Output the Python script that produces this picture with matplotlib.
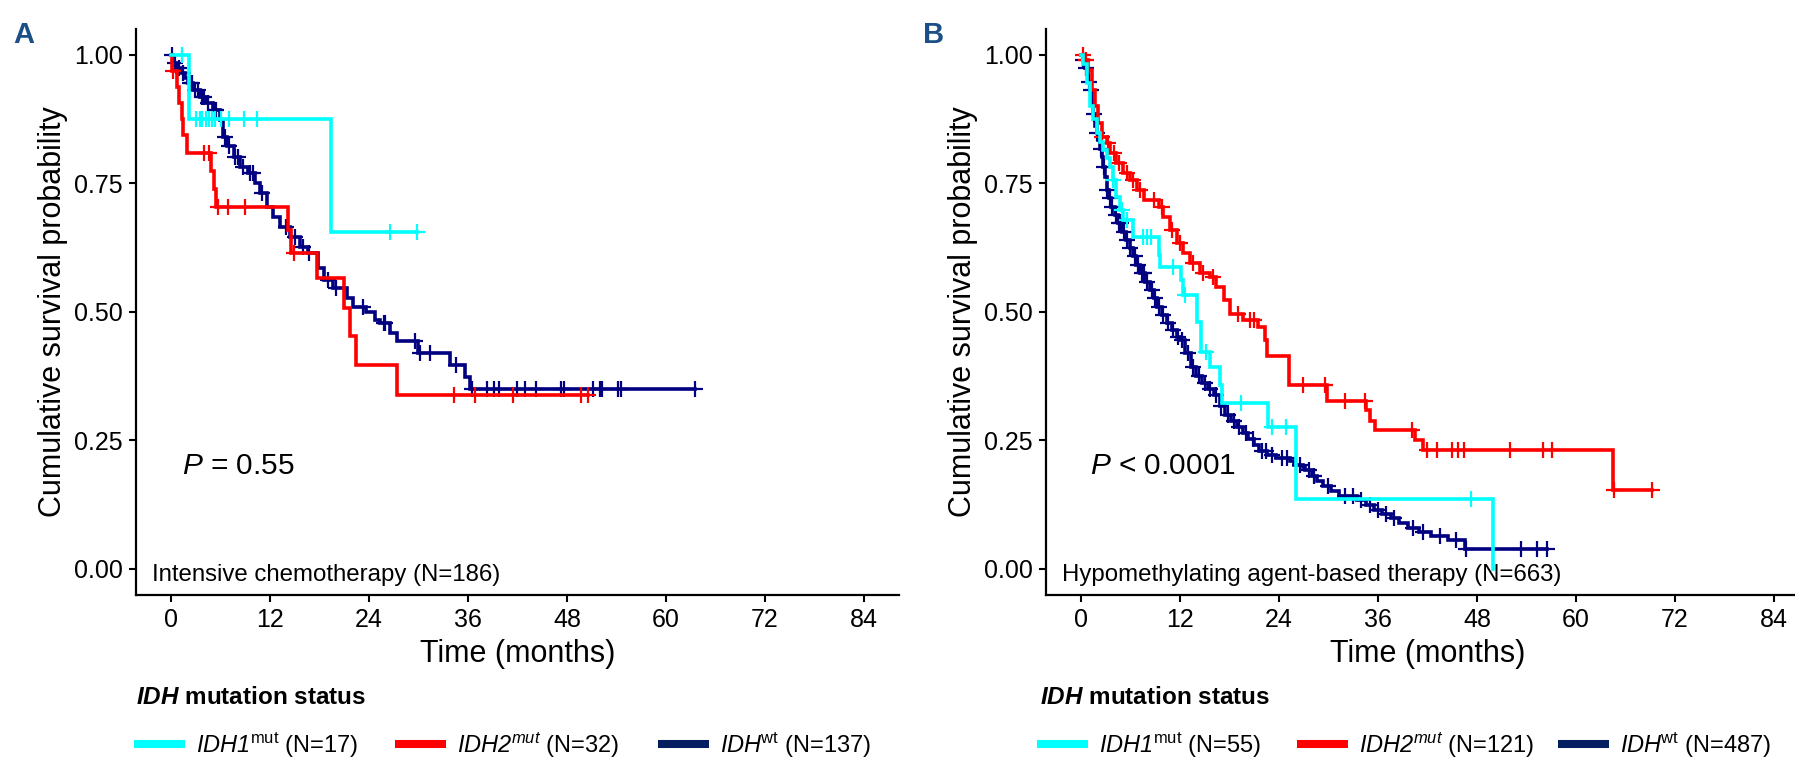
"""Kaplan-Meier curves by IDH mutation status, two therapy cohorts (panels A and B)."""

import matplotlib

matplotlib.use("Agg")
import matplotlib.pyplot as plt
import numpy as np
from matplotlib.lines import Line2D

CYAN = "#00FFFF"
RED = "#FF0000"
NAVY = "#000080"
NAVY_KEY = "#041E60"
LETTER = "#1B4F86"
INK = "#000000"

plt.rcParams["font.family"] = ["Liberation Sans", "DejaVu Sans"]
plt.rcParams["mathtext.fontset"] = "custom"
plt.rcParams["mathtext.rm"] = "Liberation Sans"
plt.rcParams["mathtext.it"] = "Liberation Sans:italic"
# 'sf' slot used as a true italic (mathtext 'it' keeps digits upright)
plt.rcParams["mathtext.sf"] = "Liberation Sans:italic"
plt.rcParams["mathtext.bf"] = "Liberation Sans:bold"
if "mathtext.bfit" in plt.rcParams:
    plt.rcParams["mathtext.bfit"] = "Liberation Sans:italic:bold"

MONTH_TICKS = [0, 12, 24, 36, 48, 60, 72, 84]
SURV_TICKS = [0.00, 0.25, 0.50, 0.75, 1.00]

# ---- Panel A: intensive chemotherapy ------------------------------------
A_CAPTION = "Intensive chemotherapy (N=186)"
A_PVAL = r"$\mathsf{P}$ = 0.55"
A_LABELS = [r"$\mathsf{IDH1}^{\mathrm{mut}}$ (N=17)",
            r"$\mathsf{IDH2}^{\mathsf{mut}}$ (N=32)",
            r"$\mathsf{IDH}^{\mathrm{wt}}$ (N=137)"]

A_IDH1_T = [2.2, 19.4]
A_IDH1_S = [0.875, 0.656]
A_IDH1_C = [1.4, 3.1, 3.5, 3.8, 4.2, 4.6, 5.0, 5.4, 6.1, 7.1, 8.9, 10.4, 26.5, 29.8]

A_IDH2_T = [0.1, 0.8, 1.0, 1.3, 1.5, 1.9, 4.9, 5.2, 5.5, 14.2, 14.5, 17.7, 21.0, 21.7, 22.4, 27.4]
A_IDH2_S = [0.969, 0.938, 0.906, 0.875, 0.844, 0.809, 0.774, 0.740, 0.705, 0.660, 0.615,
            0.566, 0.508, 0.453, 0.396, 0.338]
A_IDH2_C = [0.3, 4.0, 4.6, 5.7, 6.9, 9.0, 14.9, 34.3, 36.9, 41.5, 49.7, 50.6]

A_WT_T = [0.3, 0.8, 1.3, 1.7, 2.1, 2.7, 3.5, 4.3, 5.1, 5.9, 6.3, 6.8, 7.6, 8.4, 9.4, 10.2,
          10.8, 11.6, 12.4, 13.2, 14.4, 15.6, 16.6, 17.8, 18.5, 19.7, 21.3, 22.1, 23.7, 24.7,
          25.3, 26.6, 27.4, 30.0, 33.8, 35.6, 36.2]
A_WT_S = [0.985, 0.975, 0.965, 0.955, 0.945, 0.932, 0.919, 0.906, 0.893, 0.874, 0.841, 0.822,
          0.802, 0.783, 0.770, 0.750, 0.731, 0.705, 0.685, 0.666, 0.646, 0.627, 0.614, 0.585,
          0.562, 0.546, 0.527, 0.510, 0.500, 0.484, 0.478, 0.460, 0.443, 0.420, 0.397, 0.374,
          0.350]
A_WT_C = [0.1, 0.5, 1.0, 1.5, 2.3, 2.5, 2.9, 3.3, 3.8, 4.0, 4.5, 5.3, 5.5, 6.6, 7.0, 7.8,
          8.1, 8.8, 9.6, 9.9, 11.0, 14.0, 15.0, 16.0, 16.8, 19.0, 20.0, 23.3, 25.8, 26.0,
          29.6, 30.2, 31.4, 34.6, 36.5, 38.3, 39.2, 39.8, 42.0, 42.9, 44.2, 47.3, 47.6,
          51.2, 52.0, 52.3, 54.2, 54.5, 63.5]

# ---- Panel B: hypomethylating agent-based therapy ------------------------
B_CAPTION = "Hypomethylating agent-based therapy (N=663)"
B_PVAL = r"$\mathsf{P}$ < 0.0001"
B_LABELS = [r"$\mathsf{IDH1}^{\mathrm{mut}}$ (N=55)",
            r"$\mathsf{IDH2}^{\mathsf{mut}}$ (N=121)",
            r"$\mathsf{IDH}^{\mathrm{wt}}$ (N=487)"]

B_IDH1_T = [0.3, 0.7, 1.1, 1.5, 1.9, 2.3, 2.7, 3.1, 3.5, 3.9, 4.3, 4.7, 5.1, 6.3, 9.4, 9.6,
            12.1, 12.4, 14.1, 14.5, 15.7, 16.8, 17.1, 22.7, 26.1, 50.0]
B_IDH1_S = [0.982, 0.945, 0.900, 0.875, 0.848, 0.830, 0.815, 0.800, 0.783, 0.757, 0.724,
            0.698, 0.679, 0.646, 0.610, 0.588, 0.562, 0.533, 0.480, 0.423, 0.392, 0.357,
            0.323, 0.277, 0.137, 0.0]
B_IDH1_C = [3.9, 5.0, 5.6, 7.5, 8.0, 8.5, 11.2, 12.6, 15.1, 19.4, 23.1, 24.9, 47.3]

B_IDH2_T = [0.5, 0.9, 1.3, 1.7, 2.1, 2.5, 3.1, 3.5, 4.3, 5.1, 5.9, 6.8, 7.6, 9.4, 10.0, 10.8,
            11.6, 12.4, 13.2, 14.4, 15.6, 16.4, 17.3, 18.1, 19.7, 21.5, 22.3, 22.6, 25.2,
            29.8, 34.5, 35.0, 35.6, 40.5, 41.5, 64.5]
B_IDH2_S = [0.990, 0.971, 0.932, 0.900, 0.867, 0.841, 0.828, 0.809, 0.789, 0.770, 0.757,
            0.737, 0.718, 0.705, 0.685, 0.660, 0.634, 0.614, 0.595, 0.575, 0.569, 0.549,
            0.523, 0.497, 0.484, 0.471, 0.446, 0.415, 0.358, 0.326, 0.309, 0.287, 0.270,
            0.251, 0.232, 0.154]
B_IDH2_C = [0.3, 0.6, 2.6, 3.3, 4.0, 4.6, 5.6, 6.3, 7.2, 8.8, 9.8, 11.0, 12.0, 13.6, 14.8,
            16.0, 19.0, 20.5, 21.0, 26.9, 29.6, 32.0, 34.4, 40.1, 41.9, 43.1, 45.0, 45.7,
            46.4, 52.0, 56.0, 57.1, 64.6, 69.2]

B_WT_T = [0.2, 0.5, 0.7, 0.9, 1.1, 1.3, 1.5, 1.7, 1.9, 2.1, 2.3, 2.5, 2.7, 2.9, 3.1, 3.4,
          3.7, 4.1, 4.5, 5.0, 5.5, 5.9, 6.3, 6.7, 7.2, 7.8, 8.4, 8.8, 9.2, 9.8, 10.4, 11.0,
          11.6, 12.0, 12.6, 13.3, 14.0, 14.7, 15.4, 16.1, 16.8, 17.5, 18.2, 18.9, 19.6, 20.3,
          21.0, 21.6, 22.6, 23.7, 25.3, 25.8, 26.9, 27.2, 28.0, 28.6, 29.3, 30.3, 31.3, 33.4,
          34.5, 35.5, 36.5, 37.6, 38.6, 39.6, 41.0, 42.4, 44.5, 46.6]
B_WT_S = [0.990, 0.975, 0.964, 0.948, 0.932, 0.912, 0.885, 0.861, 0.848, 0.835, 0.818,
          0.802, 0.782, 0.763, 0.737, 0.721, 0.705, 0.689, 0.673, 0.656, 0.640, 0.624,
          0.608, 0.592, 0.575, 0.559, 0.543, 0.527, 0.510, 0.494, 0.478, 0.465, 0.452,
          0.445, 0.420, 0.392, 0.375, 0.361, 0.350, 0.338, 0.318, 0.300, 0.288, 0.276,
          0.265, 0.253, 0.241, 0.230, 0.222, 0.215, 0.210, 0.203, 0.198, 0.192, 0.180,
          0.172, 0.161, 0.152, 0.142, 0.134, 0.124, 0.115, 0.107, 0.100, 0.090, 0.080,
          0.072, 0.065, 0.057, 0.038]
B_WT_C = [0.3, 0.6, 1.0, 1.2, 1.6, 2.0, 2.4, 2.8, 3.2, 3.5, 3.8, 4.2, 4.6, 4.8, 5.2, 5.6,
          6.0, 6.5, 6.9, 7.4, 7.7, 8.0, 8.6, 9.0, 9.5, 10.0, 10.6, 11.2, 11.8, 12.3, 13.0,
          13.6, 14.3, 15.0, 15.6, 16.4, 17.0, 17.8, 18.5, 19.2, 20.0, 20.8, 22.0, 22.4, 23.2,
          24.4, 25.0, 26.5, 27.6, 28.3, 30.0, 32.0, 33.0, 34.0, 35.0, 36.0, 37.0, 38.0, 40.2,
          41.5, 43.5, 45.5, 46.7, 53.3, 55.3, 56.5]

W, H = 1795, 760  # output size in px (dpi 100)


def km_steps(event_t, event_s, censor_t):
    """Step path (starting at t=0, S=1) plus survival value at each censor time."""
    t = np.r_[0.0, event_t]
    s = np.r_[1.0, event_s]
    end = max(censor_t)
    if end > t[-1]:
        t = np.r_[t, end]
        s = np.r_[s, s[-1]]
    cen = np.asarray(censor_t)
    idx = np.searchsorted(t, cen, side="right") - 1
    return t, s, cen, s[idx]


def draw_panel(ax, groups, caption, pval, pval_x):
    # wild type drawn first so the mutant curves sit on top
    for ev_t, ev_s, cen_t, color in reversed(groups):
        t, s, cx, cy = km_steps(ev_t, ev_s, cen_t)
        ax.step(t, s, where="post", color=color, lw=2.6, solid_joinstyle="miter")
        ax.plot(cx, cy, ls="none", marker="+", ms=11, mew=1.6, color=color)

    ax.set_xlim(-4.2, 88.2)
    ax.set_ylim(-0.05, 1.05)
    ax.set_xticks(MONTH_TICKS)
    ax.set_yticks(SURV_TICKS)
    ax.set_yticklabels([f"{v:.2f}" for v in SURV_TICKS])
    ax.tick_params(labelsize=18, length=5, width=1.5, pad=4.5, colors=INK)
    for side in ("top", "right"):
        ax.spines[side].set_visible(False)
    for side in ("left", "bottom"):
        ax.spines[side].set_linewidth(1.6)
    ax.set_xlabel("Time (months)", fontsize=22, labelpad=5)
    ax.set_ylabel("Cumulative survival probability", fontsize=22, labelpad=4.5)

    ax.text(pval_x, 0.20, pval, fontsize=21.5, ha="left", va="center")
    ax.text(-2.3, -0.012, caption, fontsize=17.3, ha="left", va="center")


def add_legend(fig, labels, key_x, title_x):
    """ggplot-style horizontal legend: bold title line, then one key per group."""
    fig.text(title_x / W, 1 - 697 / H, r"$\mathbfit{IDH}$ mutation status",
             fontsize=17.5, fontweight="bold", ha="left", va="center")
    for label, color, x in zip(labels, (CYAN, RED, NAVY_KEY), key_x):
        handle = Line2D([], [], color=color, lw=5.8, solid_capstyle="butt")
        fig.legend([handle], [label], loc="center left", frameon=False,
                   bbox_to_anchor=(x / W, 1 - 745 / H), fontsize=17,
                   handlelength=2.16, handletextpad=0.47, borderpad=0, borderaxespad=0)


def main() -> None:
    fig = plt.figure(figsize=(W / 100, H / 100), dpi=100, facecolor="white")
    ax_a = fig.add_axes([0.0759, 0.2175, 0.4247, 0.744])
    ax_b = fig.add_axes([0.5829, 0.2175, 0.4247, 0.744])

    draw_panel(ax_a,
               [(A_IDH1_T, A_IDH1_S, A_IDH1_C, CYAN),
                (A_IDH2_T, A_IDH2_S, A_IDH2_C, RED),
                (A_WT_T, A_WT_S, A_WT_C, NAVY)],
               A_CAPTION, A_PVAL, 1.3)
    draw_panel(ax_b,
               [(B_IDH1_T, B_IDH1_S, B_IDH1_C, CYAN),
                (B_IDH2_T, B_IDH2_S, B_IDH2_C, RED),
                (B_WT_T, B_WT_S, B_WT_C, NAVY)],
               B_CAPTION, B_PVAL, 1.1)

    add_legend(fig, A_LABELS, (134, 395, 658), 136)
    add_legend(fig, B_LABELS, (1037, 1297, 1558), 1040)

    fig.text(13 / W, 1 - 43 / H, "A", fontsize=21, fontweight="bold",
             color=LETTER, ha="left", va="baseline")
    fig.text(923 / W, 1 - 43 / H, "B", fontsize=21, fontweight="bold",
             color=LETTER, ha="left", va="baseline")

    fig.savefig("out.png", dpi=100, facecolor="white")


if __name__ == "__main__":
    main()
